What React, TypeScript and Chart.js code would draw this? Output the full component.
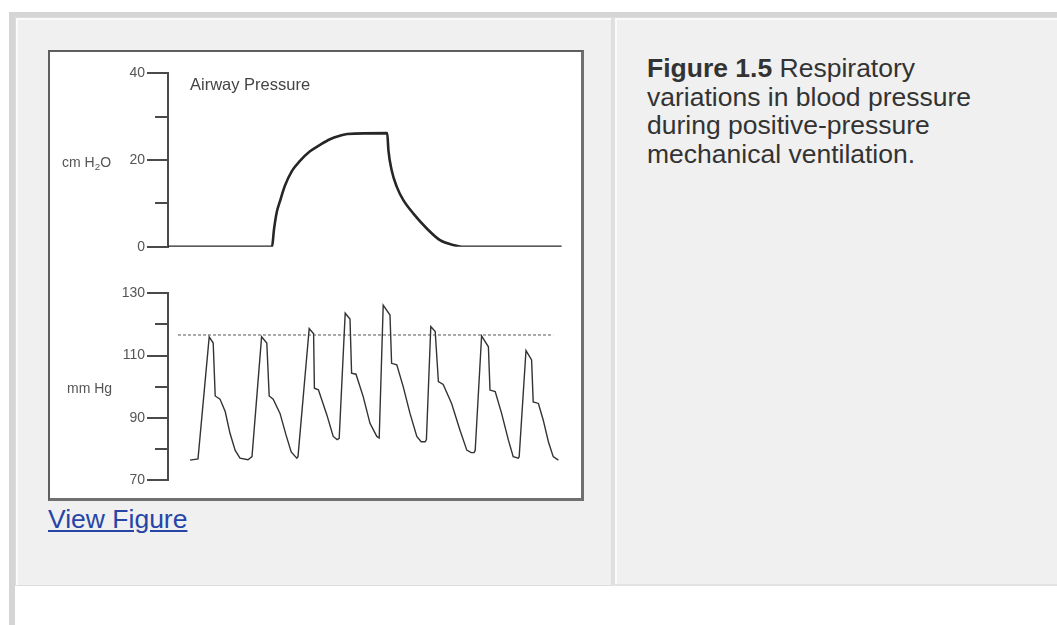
import React, { useEffect, useRef } from "react";
import { Chart, registerables } from "chart.js";

Chart.register(...registerables);

// ---------- DATA ----------
// time axis (seconds) shared by both panels
const TIME_RANGE = [0, 10];

// Airway pressure (cm H2O)
const AIRWAY_TIME = [0, 2.6, 2.65, 2.72, 2.8, 2.92, 3.1, 3.3, 3.55, 3.8, 4.05, 4.3, 4.48, 5.48, 5.51, 5.59, 5.72, 5.88, 6.13, 6.47, 6.8, 7.13, 7.34, 9.84];
const AIRWAY_PRESSURE = [0, 0, 4, 8, 10.5, 14, 17.5, 19.8, 22, 23.5, 24.8, 25.6, 26, 26.2, 22.3, 17.7, 13.8, 10.8, 7.7, 4.2, 1.5, 0.4, 0, 0];
const AIRWAY_MAJOR_TICKS = [0, 20, 40];
const AIRWAY_MINOR_TICKS = [10, 30];

// Arterial pressure (mm Hg)
const BP_TIME = [
  0.55, 0.75, 1.03, 1.13, 1.18, 1.3, 1.43, 1.55, 1.68, 1.8, 2.0, 2.1,
  2.34, 2.47, 2.53, 2.63, 2.8, 2.95, 3.08, 3.22, 3.25,
  3.53, 3.64, 3.66, 3.76, 3.97, 4.13, 4.23, 4.28,
  4.43, 4.55, 4.59, 4.7, 4.88, 5.05, 5.22, 5.28,
  5.38, 5.55, 5.59, 5.72, 5.88, 6.05, 6.22, 6.33, 6.43, 6.46,
  6.57, 6.68, 6.76, 6.88, 7.09, 7.3, 7.47, 7.58, 7.65, 7.68,
  7.84, 8.01, 8.05, 8.18, 8.34, 8.51, 8.63, 8.76, 8.78,
  8.95, 9.09, 9.13, 9.26, 9.38, 9.51, 9.63, 9.76,
];
const BP_VALUES = [
  76.4, 76.8, 116, 114, 97, 96, 92, 85, 79.5, 77, 76.5, 77.5,
  116, 114, 97, 96, 91.4, 84.5, 79, 77, 77.5,
  118.7, 117, 99.5, 99, 91, 84, 83, 83.4,
  123.6, 121.7, 104.3, 104, 96.8, 88.2, 84, 83.5,
  126.2, 123, 107.5, 107, 100, 91.4, 84, 82.3, 82.3, 83,
  119.3, 117.7, 101.6, 100.7, 94.6, 86, 79.6, 78.8, 78.8, 79.5,
  116.3, 112.8, 98.9, 98.4, 91.4, 82.8, 77.5, 77, 77.5,
  111.6, 108.6, 95.1, 94.6, 89.3, 82.3, 77.5, 76.4,
];
const REF_TIME = [0.25, 9.63];
const REF_VALUE = [116.6, 116.6];
const BP_MAJOR_TICKS = [70, 90, 110, 130];
const BP_MINOR_TICKS = [80, 100, 120];

// ---------- STYLE ----------
const FONT = '"Liberation Sans", Arial, Helvetica, sans-serif';
const AXIS = "#4a4a4a";
const TICK_TEXT = "#555";

const toPoints = (xs: number[], ys: number[]) => xs.map((x, i) => ({ x, y: ys[i] }));

function minorTickPlugin(values: number[], len: number) {
  return {
    id: "minorTicks",
    afterDraw(chart: any) {
      const s = chart.scales.y;
      const ctx = chart.ctx;
      ctx.save();
      ctx.strokeStyle = AXIS;
      ctx.lineWidth = 2;
      values.forEach((v) => {
        const y = Math.round(s.getPixelForValue(v));
        ctx.beginPath();
        ctx.moveTo(s.right - len, y);
        ctx.lineTo(s.right, y);
        ctx.stroke();
      });
      ctx.restore();
    },
  };
}

function makeConfig(
  datasets: any[],
  min: number,
  max: number,
  major: number[],
  minor: number[],
  padTop: number,
  padBottom: number
): any {
  return {
    type: "line",
    data: { datasets },
    options: {
      animation: false,
      responsive: false,
      maintainAspectRatio: false,
      devicePixelRatio: 1,
      layout: { padding: { top: padTop, bottom: padBottom, left: 0, right: 13 } },
      plugins: { legend: { display: false }, tooltip: { enabled: false }, title: { display: false } },
      elements: { point: { radius: 0 } },
      scales: {
        x: { type: "linear", min: TIME_RANGE[0], max: TIME_RANGE[1], display: false },
        y: {
          type: "linear",
          min,
          max,
          afterBuildTicks: (s: any) => {
            s.ticks = major.map((v) => ({ value: v }));
          },
          afterFit: (s: any) => {
            s.width = 118;
          },
          grid: { drawOnChartArea: false, drawTicks: true, tickLength: 21, color: AXIS, lineWidth: 2 },
          border: { display: true, color: AXIS, width: 2 },
          ticks: { padding: 2, color: TICK_TEXT, font: { family: FONT, size: 14 } },
        },
      },
    },
    plugins: [minorTickPlugin(minor, 13)],
  };
}

export default function App() {
  const topRef = useRef<HTMLCanvasElement>(null);
  const botRef = useRef<HTMLCanvasElement>(null);

  useEffect(() => {
    const top = new Chart(
      topRef.current!,
      makeConfig(
        [
          {
            data: toPoints(AIRWAY_TIME, AIRWAY_PRESSURE),
            borderColor: "#262626",
            borderWidth: 2.6,
            cubicInterpolationMode: "monotone",
            pointRadius: 0,
          },
        ],
        0,
        40,
        AIRWAY_MAJOR_TICKS,
        AIRWAY_MINOR_TICKS,
        21.3,
        23.3
      )
    );
    const bottom = new Chart(
      botRef.current!,
      makeConfig(
        [
          {
            data: toPoints(BP_TIME, BP_VALUES),
            borderColor: "#333",
            borderWidth: 1.4,
            tension: 0,
            pointRadius: 0,
          },
          {
            data: toPoints(REF_TIME, REF_VALUE),
            borderColor: "#555",
            borderWidth: 1,
            borderDash: [3, 2],
            pointRadius: 0,
          },
        ],
        70,
        130,
        BP_MAJOR_TICKS,
        BP_MINOR_TICKS,
        23.3,
        18
      )
    );
    return () => {
      top.destroy();
      bottom.destroy();
    };
  }, []);

  const abs = (s: React.CSSProperties): React.CSSProperties => ({ position: "absolute", ...s });

  return (
    <div style={abs({ left: 0, top: 0, width: 1057, height: 625, overflow: "hidden", background: "#fff", fontFamily: FONT })}>
      {/* outer table frame */}
      <div style={abs({ left: 9, top: 12, width: 1100, height: 700, borderLeft: "6px solid #d5d5d5", borderTop: "5px solid #d5d5d5", boxSizing: "border-box" })} />
      {/* left cell */}
      <div
        style={abs({
          left: 15,
          top: 17,
          width: 597,
          height: 569,
          background: "#f0f0f0",
          border: "1px solid #dddddd",
          boxShadow: "inset 2px 2px 0 #fbfbfb",
          boxSizing: "border-box",
        })}
      />
      {/* right cell */}
      <div
        style={abs({
          left: 612,
          top: 17,
          width: 500,
          height: 569,
          background: "#f0f0f0",
          borderTop: "1px solid #dddddd",
          borderBottom: "2px solid #e2e2e2",
          borderLeft: "3px solid #e0e0e0",
          boxShadow: "inset 2px 2px 0 #fbfbfb",
          boxSizing: "border-box",
        })}
      />

      {/* figure image box */}
      <div
        style={abs({
          left: 48,
          top: 50,
          width: 536,
          height: 451,
          background: "#fff",
          borderLeft: "2px solid #5e5e5e",
          borderTop: "2px solid #5e5e5e",
          borderRight: "3px solid #707070",
          borderBottom: "3px solid #707070",
          boxSizing: "border-box",
        })}
      >
        <canvas ref={topRef} width={531} height={218} style={abs({ left: 0, top: 0 })} />
        <canvas ref={botRef} width={531} height={228} style={abs({ left: 0, top: 218 })} />
      </div>

      {/* in-figure labels */}
      <div style={abs({ left: 190, top: 76, fontSize: 16.5, lineHeight: 1, color: "#444", whiteSpace: "nowrap" })}>Airway Pressure</div>
      <div style={abs({ left: 62, top: 155, fontSize: 14, lineHeight: 1, color: TICK_TEXT, whiteSpace: "nowrap" })}>
        cm H<span style={{ fontSize: "0.7em", position: "relative", top: 3 }}>2</span>O
      </div>
      <div style={abs({ left: 67, top: 381, fontSize: 14, lineHeight: 1, color: TICK_TEXT, whiteSpace: "nowrap" })}>mm Hg</div>

      {/* link */}
      <a
        href="#"
        onClick={(e) => e.preventDefault()}
        style={abs({ left: 48, top: 506, fontSize: 26.5, lineHeight: 1, color: "#2645a6", textDecoration: "underline", whiteSpace: "nowrap" })}
      >
        View Figure
      </a>

      {/* caption */}
      <div style={abs({ left: 647, top: 54, width: 360, fontSize: 26.5, lineHeight: "28.5px", color: "#333" })}>
        <b>Figure 1.5</b> Respiratory variations in blood pressure during positive-pressure mechanical ventilation.
      </div>
    </div>
  );
}
